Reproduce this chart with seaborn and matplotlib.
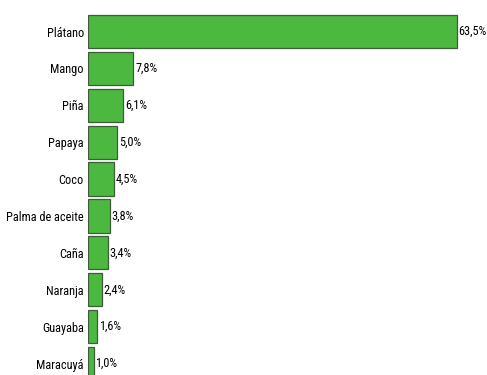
import matplotlib
matplotlib.use("Agg")
import matplotlib.pyplot as plt
from matplotlib import font_manager
import seaborn as sns
import pandas as pd

cultivos = ["Plátano", "Mango", "Piña", "Papaya", "Coco", "Palma de aceite",
            "Caña", "Naranja", "Guayaba", "Maracuyá"]
porcentajes = [63.5, 7.8, 6.1, 5.0, 4.5, 3.8, 3.4, 2.4, 1.6, 1.0]

df = pd.DataFrame({"cultivo": cultivos, "pct": porcentajes})

sns.set_style("white")
available = {f.name for f in font_manager.fontManager.ttflist}
narrow = [n for n in ["Roboto Condensed", "Liberation Sans Narrow"] if n in available]
plt.rcParams["font.family"] = narrow + ["Liberation Sans", "DejaVu Sans"]

fig = plt.figure(figsize=(4.87, 3.75), dpi=100)
ax = fig.add_axes([88 / 487, 0, 399 / 487, 1])

sns.barplot(data=df, x="pct", y="cultivo", orient="h", color="#4db840",
            saturation=1, width=0.9, edgecolor="#3d5c38", linewidth=0.9, ax=ax)

ax.set_xlim(0, 399 / 5.81)
ax.set_ylim(9.31, -0.854)

for i, v in enumerate(porcentajes):
    ax.text(v + 0.3, i, f"{v:.1f}%".replace(".", ","), va="center", ha="left",
            fontsize=8.8, color="#000000")

ax.set_xlabel("")
ax.set_ylabel("")
ax.set_xticks([])
ax.tick_params(axis="y", length=0, pad=3, labelsize=8.8, labelcolor="#000000")
for s in ax.spines.values():
    s.set_visible(False)

fig.savefig("out.png", dpi=100)
